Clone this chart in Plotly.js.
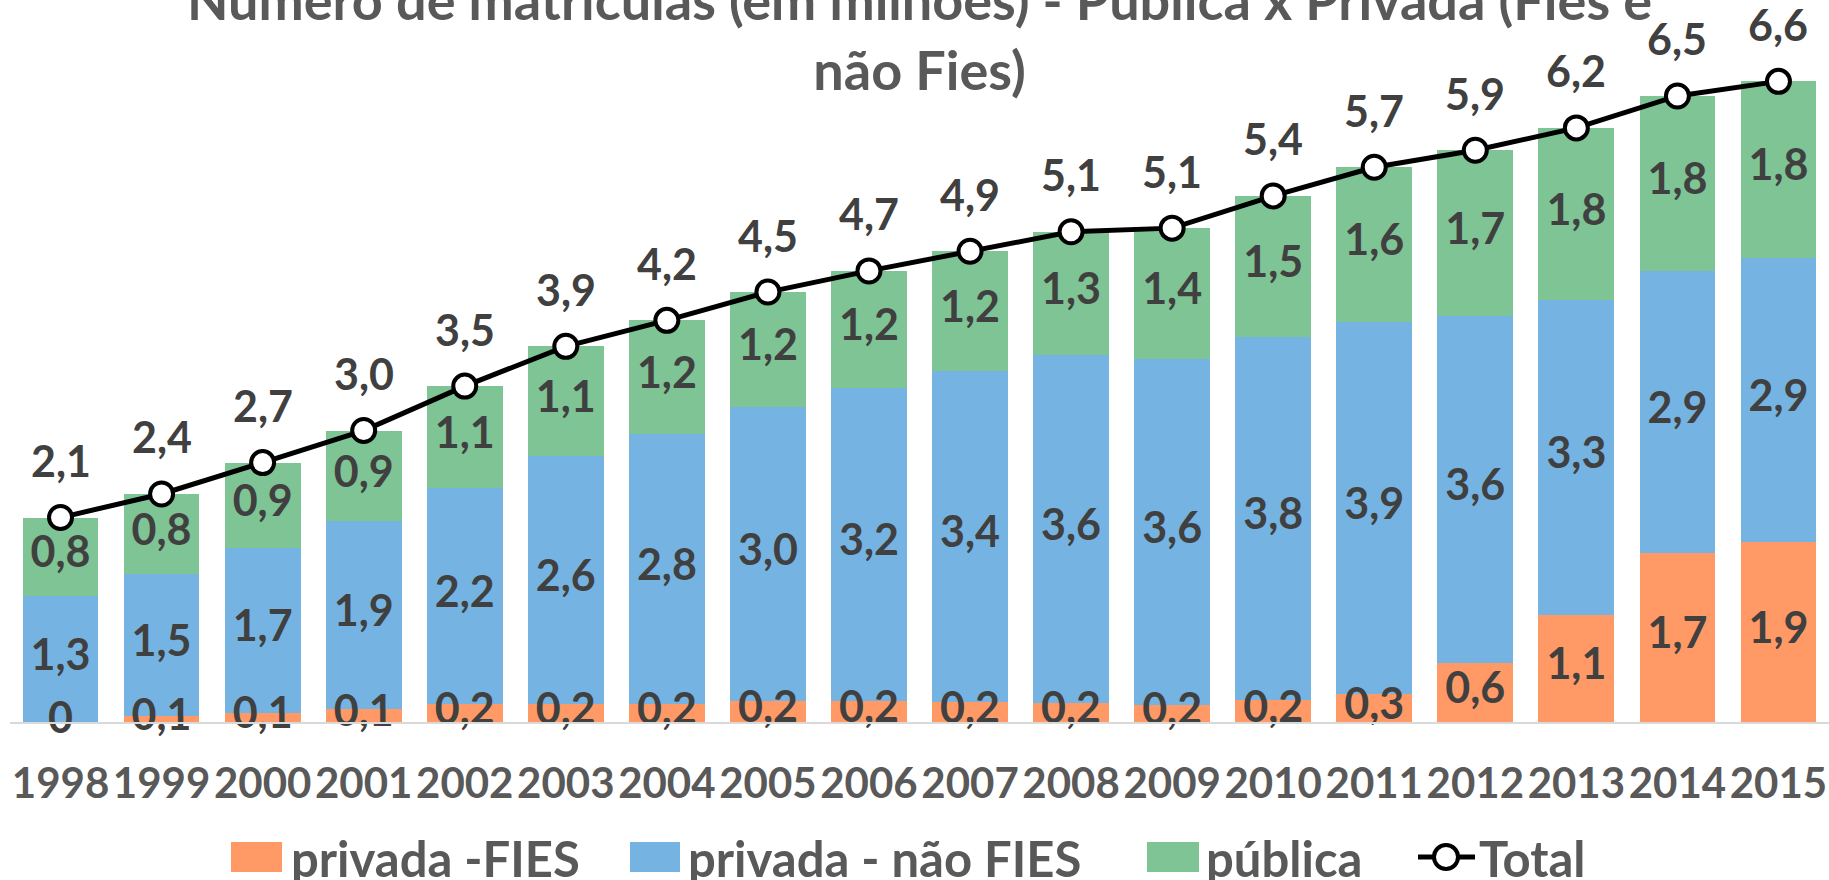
<!DOCTYPE html>
<html>
<head>
<meta charset="utf-8">
<script src="https://cdn.plot.ly/plotly-3.0.1.min.js"></script>
<style>html,body{margin:0;padding:0;background:#fff;}#chart{width:1829px;height:880px;}</style>
</head>
<body>
<div id="chart"></div>
<script>
const years = ['1998','1999','2000','2001','2002','2003','2004','2005','2006','2007','2008','2009','2010','2011','2012','2013','2014','2015'];
const privadaFies    = [0, 0.062, 0.093, 0.132, 0.183, 0.191, 0.186, 0.215, 0.215, 0.208, 0.194, 0.175, 0.227, 0.289, 0.616, 1.112, 1.745, 1.860];
const privadaNaoFies = [1.309, 1.467, 1.706, 1.948, 2.240, 2.560, 2.793, 3.045, 3.247, 3.424, 3.610, 3.585, 3.757, 3.858, 3.584, 3.261, 2.920, 2.947];
const publica        = [0.808, 0.832, 0.887, 0.938, 1.055, 1.139, 1.180, 1.192, 1.209, 1.243, 1.272, 1.354, 1.464, 1.597, 1.721, 1.779, 1.818, 1.827];
const total          = [2.117, 2.361, 2.686, 3.018, 3.478, 3.890, 4.159, 4.452, 4.671, 4.875, 5.076, 5.114, 5.448, 5.744, 5.921, 6.152, 6.483, 6.634];
const seriesNames = ['privada -FIES', 'privada - não FIES', 'pública', 'Total'];

const colors = {fies:'#FF9966', naoFies:'#75B4E2', pub:'#7EC494'};
const FONT = 'Lato, "Open Sans", sans-serif';
const fmt = v => v === 0 ? '0' : v.toFixed(1).replace('.', ',');

function barTrace(vals, name, color){
  return {type:'bar', x:years, y:vals, name:name, marker:{color:color, line:{width:0}},
          hoverinfo:'skip', showlegend:false};
}
function labelTrace(vals, bases){
  return {type:'scatter', mode:'text', x:years,
          y:vals.map((v,i)=>bases[i]+v/2), text:vals.map(fmt),
          textfont:{family:FONT, size:43, color:'#404040', weight:'bold'},
          textposition:'middle center', hoverinfo:'skip', showlegend:false, cliponaxis:false};
}
const zeros = years.map(()=>0);
const base2 = privadaFies.slice();
const base3 = privadaFies.map((v,i)=>v+privadaNaoFies[i]);

const data = [
  barTrace(privadaFies, seriesNames[0], colors.fies),
  barTrace(privadaNaoFies, seriesNames[1], colors.naoFies),
  barTrace(publica, seriesNames[2], colors.pub),
  labelTrace(privadaFies, zeros),
  labelTrace(privadaNaoFies, base2),
  labelTrace(publica, base3),
  {type:'scatter', mode:'lines+markers', x:years, y:total, name:seriesNames[3],
   line:{color:'#000000', width:5},
   marker:{size:23, color:'#FFFFFF', line:{color:'#000000', width:4}},
   hoverinfo:'skip', showlegend:false, cliponaxis:false}
];

// total labels: category index on the category axis
const annotations = years.map((yr,i)=>({
  x:i, y:total[i], xref:'x', yref:'y', text:fmt(total[i]), showarrow:false,
  yshift:57, font:{family:FONT, size:43, color:'#404040', weight:'bold'}
}));

// custom legend (pixel positions converted to paper coords)
const L = 10, PW = 1819, BASE = 722, PH = 676;
const px = v => (v - L)/PW;
const py = v => (BASE - v)/PH;
const LEGFONT = {family:FONT, size:49, color:'#595959', weight:'bold'};
const legendItems = [
  {text:seriesNames[0], color:colors.fies, r0:231, r1:282, t:289},
  {text:seriesNames[1], color:colors.naoFies, r0:630, r1:680, t:686},
  {text:seriesNames[2], color:colors.pub, r0:1147, r1:1199, t:1204}
];
const shapes = [];
legendItems.forEach(it=>{
  shapes.push({type:'rect', xref:'paper', yref:'paper', x0:px(it.r0), x1:px(it.r1), y0:py(842), y1:py(872),
               fillcolor:it.color, line:{width:0}});
  annotations.push({xref:'paper', yref:'paper', x:px(it.t), y:py(858), xanchor:'left', yanchor:'middle',
                    text:it.text, showarrow:false, font:LEGFONT});
});
shapes.push({type:'line', xref:'paper', yref:'paper', x0:px(1418), x1:px(1475), y0:py(857), y1:py(857),
             line:{color:'#000', width:5}});
shapes.push({type:'circle', xref:'paper', yref:'paper', xsizemode:'pixel', ysizemode:'pixel',
             xanchor:px(1446), yanchor:py(857), x0:-12, x1:12, y0:-12, y1:12,
             fillcolor:'#fff', line:{color:'#000', width:4}});
annotations.push({xref:'paper', yref:'paper', x:px(1477), y:py(858), xanchor:'left', yanchor:'middle',
                  text:seriesNames[3], showarrow:false, font:LEGFONT});

const layout = {
  width:1829, height:880,
  margin:{l:L, r:0, t:46, b:158, pad:0},
  paper_bgcolor:'#fff', plot_bgcolor:'#fff',
  barmode:'stack', bargap:0.25,
  showlegend:false,
  title:{text:'Número de matrículas (em milhões) - Pública x Privada (Fies e<br>não Fies)',
         font:{family:FONT, size:54, color:'#595959', weight:'bold'},
         xref:'paper', x:0.5, xanchor:'center', yref:'container', y:0.977, yanchor:'middle'},
  xaxis:{type:'category', range:[-0.5, 17.5], autorange:false, showline:true, linecolor:'#D9D9D9', linewidth:2,
         showgrid:false, zeroline:false, ticks:'', ticklabelstandoff:24,
         tickfont:{family:FONT, size:42, color:'#595959', weight:'bold'}, fixedrange:true},
  yaxis:{range:[0,7], autorange:false, visible:false, showgrid:false, zeroline:false, fixedrange:true},
  annotations:annotations,
  shapes:shapes
};
Plotly.newPlot('chart', data, layout, {displayModeBar:false, staticPlot:true});
</script>
</body>
</html>
